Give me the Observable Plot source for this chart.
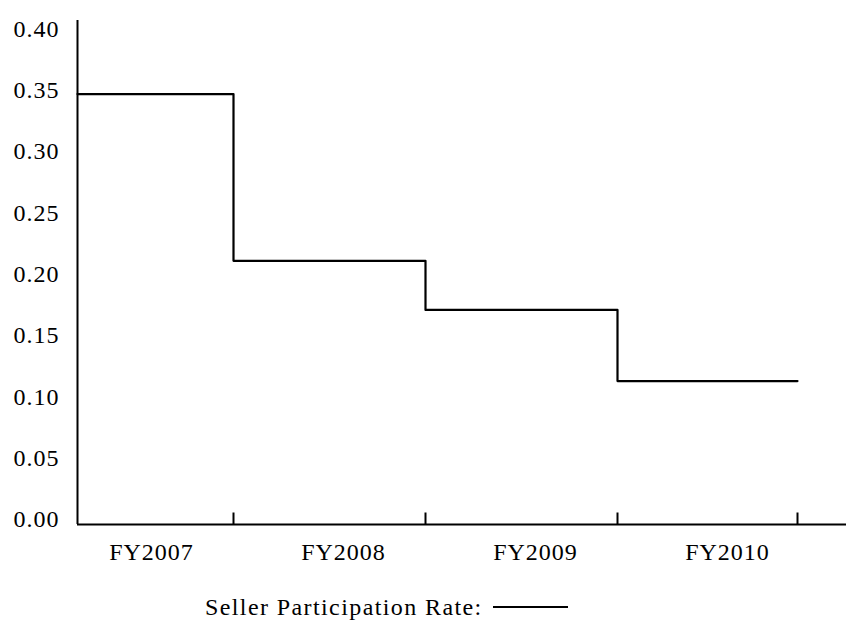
<!DOCTYPE html>
<html>
<head>
<meta charset="utf-8">
<script src="https://cdn.jsdelivr.net/npm/d3@7"></script>
<script src="https://cdn.jsdelivr.net/npm/@observablehq/plot@0.6"></script>
<style>
  html, body { margin: 0; padding: 0; background: #fff; }
  #wrap { position: relative; width: 846px; height: 620px; overflow: hidden; }
  #legend-text { position: absolute; left: 205px; top: 595px; font: 24px "Liberation Serif", "Times New Roman", serif; letter-spacing: 1.4px; line-height: 24px; white-space: nowrap; color: #000; }
  #legend-line { position: absolute; left: 493px; top: 606px; width: 75px; height: 2px; background: #000; }
</style>
</head>
<body>
<div id="wrap">
  <div id="chart"></div>
  <div id="legend-text">Seller Participation Rate:</div>
  <div id="legend-line"></div>
</div>
<script>
// Data
const categories = ["FY2007", "FY2008", "FY2009", "FY2010"];
const rates = [0.351, 0.215, 0.175, 0.117];
// period boundaries in fiscal-year units: start of the series, then the end of each fiscal year
const periodBounds = [0.1875, 1, 2, 3, 3.9375];
const yTicks = [0, 0.05, 0.10, 0.15, 0.20, 0.25, 0.30, 0.35, 0.40];
const seriesName = "Seller Participation Rate";

// Step line points (step-after): each rate holds from its period start to its period end
const stepData = periodBounds.map((b, i) => ({x: b, y: rates[Math.min(i, rates.length - 1)]}));
const labelData = categories.map((c, i) => ({x: i + 0.5, label: c}));
const xDomain = [periodBounds[0], 4.1927];

// upward tick symbol (inner tick marks on the category axis)
const upTick = {draw(context) { context.moveTo(0, 0); context.lineTo(0, -12); }};

const chart = Plot.plot({
  width: 846,
  height: 585,
  marginLeft: 77,
  marginRight: 0,
  marginTop: 20,
  marginBottom: 61,
  style: {fontFamily: '"Liberation Serif", "Times New Roman", serif', fontSize: "24px", letterSpacing: "1px", color: "#000", background: "#fff"},
  x: {type: "linear", domain: xDomain, label: null},
  y: {type: "linear", domain: [0, 0.411], label: null},
  marks: [
    Plot.axisY({ticks: yTicks, tickFormat: d => d.toFixed(2), tickSize: 0, tickPadding: 18, dy: -5, fontSize: 24, label: null}),
    Plot.axisX({ticks: labelData.map(d => d.x), tickFormat: (d, i) => categories[i], tickSize: 0, tickPadding: 18, dx: 14, fontSize: 24, label: null}),
    Plot.ruleX([xDomain[0]], {stroke: "#000", strokeWidth: 2}),
    Plot.ruleY([0], {stroke: "#000", strokeWidth: 2}),
    Plot.dot(periodBounds.slice(1), {x: d => d, y: 0, symbol: upTick, r: 6, fill: "none", stroke: "#000", strokeWidth: 2}),
    Plot.line(stepData, {x: "x", y: "y", curve: "step-after", stroke: "#000", strokeWidth: 2.2})
  ]
});
document.getElementById("chart").appendChild(chart);
</script>
</body>
</html>
